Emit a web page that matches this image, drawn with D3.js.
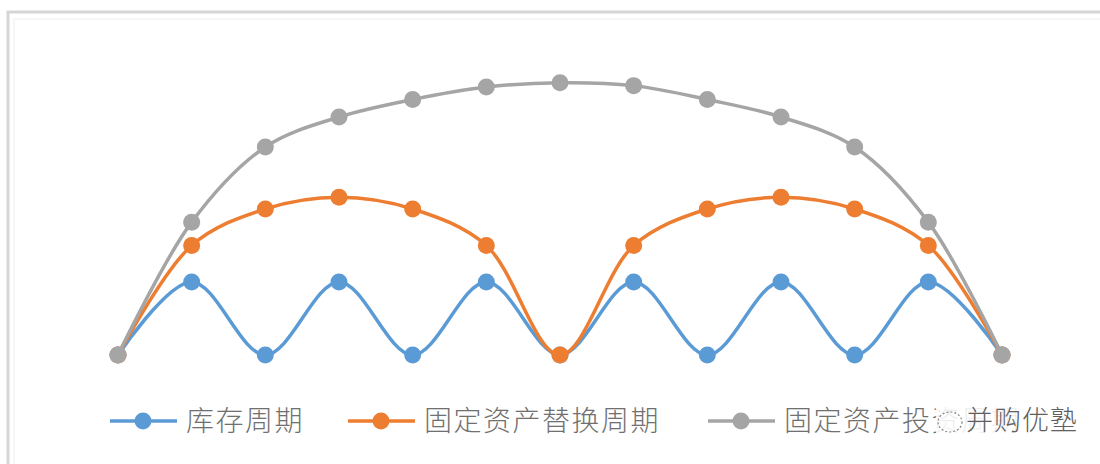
<!DOCTYPE html>
<html>
<head>
<meta charset="utf-8">
<script src="https://cdn.jsdelivr.net/npm/d3@7"></script>
<style>
  html, body { margin: 0; padding: 0; background: #fff; }
  svg { display: block; }
</style>
</head>
<body>
<svg id="chart" width="1100" height="464"></svg>
<script>
// ---- data ----
const categories = [0, 1, 2, 3, 4, 5, 6, 7, 8, 9, 10, 11, 12];
const inventoryCycle = [0, 1, 0, 1, 0, 1, 0, 1, 0, 1, 0, 1, 0];
const replacementCycle = [0, 1.5, 2.0, 2.16, 2.0, 1.5, 0, 1.5, 2.0, 2.16, 2.0, 1.5, 0];
const investmentCycle = [0, 1.82, 2.85, 3.26, 3.5, 3.67, 3.73, 3.69, 3.5, 3.26, 2.85, 1.82, 0];
const seriesNames = ["库存周期", "固定资产替换周期", "固定资产投资周期"];
const seriesColors = ["#5b9bd5", "#ed7d31", "#a5a5a5"];
const watermarkText = "并购优塾";

const series = [inventoryCycle, replacementCycle, investmentCycle].map((vals, i) => ({
  name: seriesNames[i], color: seriesColors[i],
  points: vals.map((v, j) => ({ c: categories[j], v }))
}));

const svg = d3.select("#chart");

// frame
svg.append("path").attr("d", "M8,464V12H1100").attr("fill", "none")
  .attr("stroke", "#d6d6d6").attr("stroke-width", 3);
svg.append("path").attr("d", "M14,464V19H1100").attr("fill", "none")
  .attr("stroke", "#f6f6f6").attr("stroke-width", 2);

const x = d3.scalePoint().domain(categories).range([118, 1002]);
const y = d3.scaleLinear().domain([0, 4]).range([355, 63]);

const line = d3.line().x(d => x(d.c)).y(d => y(d.v)).curve(d3.curveCatmullRom.alpha(0.5));

const g = svg.append("g");
series.forEach(s => {
  g.append("path").datum(s.points).attr("d", line)
    .attr("fill", "none").attr("stroke", s.color).attr("stroke-width", 3.5)
    .attr("stroke-linecap", "round");
  g.selectAll(null).data(s.points).enter().append("circle")
    .attr("cx", d => x(d.c)).attr("cy", d => y(d.v)).attr("r", 8.5)
    .attr("fill", s.color);
});

// legend
const legendX = [110, 348, 708];
const lg = svg.append("g");
series.forEach((s, i) => {
  const lx = legendX[i];
  lg.append("line").attr("x1", lx).attr("x2", lx + 67).attr("y1", 421).attr("y2", 421)
    .attr("stroke", s.color).attr("stroke-width", 3.5);
  lg.append("circle").attr("cx", lx + 33).attr("cy", 421).attr("r", 8.5).attr("fill", s.color);
  lg.append("text").attr("x", lx + 76).attr("y", 421).attr("dy", "0.35em")
    .attr("font-family", "'Noto Sans CJK SC', sans-serif").attr("font-weight", 300)
    .attr("font-size", 28).attr("fill", "#707070").attr("letter-spacing", 1.5)
    .text(s.name);
});

// watermark
const wm = svg.append("g");
wm.append("rect").attr("x", 936).attr("y", 402).attr("width", 150).attr("height", 40)
  .attr("fill", "#fff").attr("opacity", 0.88);
wm.append("ellipse").attr("cx", 950).attr("cy", 422).attr("rx", 12).attr("ry", 10)
  .attr("fill", "none").attr("stroke", "#888").attr("stroke-width", 1.2).attr("stroke-dasharray", "2,2");
wm.append("text").attr("x", 966).attr("y", 421).attr("dy", "0.35em")
  .attr("font-family", "'Noto Sans CJK SC', sans-serif").attr("font-weight", 300)
  .attr("font-size", 27).attr("fill", "#606060").attr("letter-spacing", 1).text(watermarkText);
</script>
</body>
</html>
